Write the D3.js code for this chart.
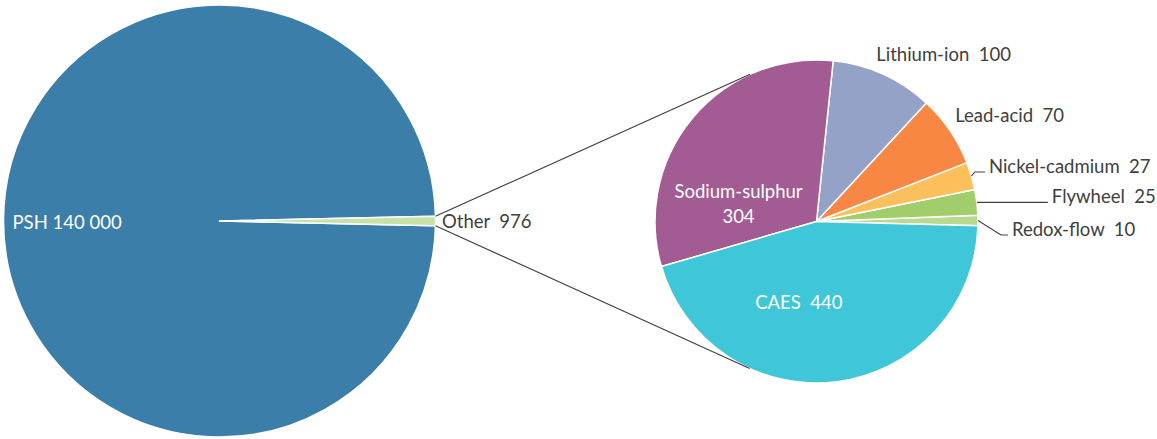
<!DOCTYPE html>
<html>
<head>
<meta charset="utf-8">
<script src="https://cdn.jsdelivr.net/npm/d3@7"></script>
<style>
  html, body { margin: 0; padding: 0; background: #ffffff; }
  svg { display: block; }
  text { font-family: Lato, "Open Sans", sans-serif; font-size: 18.5px; white-space: pre; }
</style>
</head>
<body>
<svg id="chart" width="1157" height="439"></svg>
<script>
// ---- data ----
const mainCategories = ["PSH", "Other"];
const mainValues = [140000, 976];
const mainColors = ["#3a7ea9", "#c9e0a8"];

const detailCategories = ["Redox-flow", "Flywheel", "Nickel-cadmium", "Lead-acid", "Lithium-ion", "Sodium-sulphur", "CAES"];
const detailValues = [10, 25, 27, 70, 100, 304, 440];
const detailColors = ["#b8da8f", "#a2cd6b", "#fbbf5b", "#f78743", "#95a2c8", "#a35b93", "#3fc6d9"];

// ---- layout ----
const svg = d3.select("#chart");
const mainC = { x: 219.5, y: 221, r: 216 };
const detC = { x: 816.5, y: 221.5, r: 161.5 };
const deg = Math.PI / 180;
const fmtSpace = d3.formatLocale({ decimal: ".", thousands: " ", grouping: [3], currency: ["", ""] }).format(",d");

// main pie: "Other" slice centred at 3 o'clock
const otherAngle = 2 * Math.PI * mainValues[1] / d3.sum(mainValues);
const mainStart = Math.PI / 2 + otherAngle / 2;
const mainPie = d3.pie().sort(null).value(d => d.v).startAngle(mainStart).endAngle(mainStart + 2 * Math.PI);
const mainData = mainPie(mainCategories.map((c, i) => ({ c, v: mainValues[i], col: mainColors[i] })));
const mainArc = d3.arc().innerRadius(0).outerRadius(mainC.r);

const gMain = svg.append("g").attr("transform", `translate(${mainC.x},${mainC.y})`);
gMain.selectAll("path").data(mainData).join("path")
  .attr("d", mainArc).attr("fill", d => d.data.col)
  .attr("stroke", "#ffffff").attr("stroke-width", 1.5).attr("stroke-linejoin", "round");

// detail pie: counter-clockwise from just below 3 o'clock
const detStart = Math.PI / 2 + 1.5 * deg;
const detPie = d3.pie().sort(null).value(d => d.v).startAngle(detStart).endAngle(detStart - 2 * Math.PI);
const detData = detPie(detailCategories.map((c, i) => ({ c, v: detailValues[i], col: detailColors[i] })));
const detArc = d3.arc().innerRadius(0).outerRadius(detC.r);

const gDet = svg.append("g").attr("transform", `translate(${detC.x},${detC.y})`);
gDet.selectAll("path").data(detData).join("path")
  .attr("d", detArc).attr("fill", d => d.data.col)
  .attr("stroke", "#ffffff").attr("stroke-width", 1.5).attr("stroke-linejoin", "round");

// ---- connector lines (tangents from Other slice edges to detail pie) ----
const other = mainData[1];
function polar(c, r, a) { return [c.x + r * Math.sin(a), c.y - r * Math.cos(a)]; }
const pA = polar(mainC, mainC.r, Math.min(other.startAngle, other.endAngle)); // upper edge
const pB = polar(mainC, mainC.r, Math.max(other.startAngle, other.endAngle)); // lower edge
function tangent(p, sign) {
  const dx = p[0] - detC.x, dy = p[1] - detC.y;
  const d = Math.hypot(dx, dy);
  const phi = Math.atan2(dy, dx) + sign * Math.acos(detC.r / d);
  return [detC.x + detC.r * Math.cos(phi), detC.y + detC.r * Math.sin(phi)];
}
const tA = tangent(pA, 1);
const tB = tangent(pB, -1);
svg.append("line").attr("x1", pA[0]).attr("y1", pA[1]).attr("x2", tA[0]).attr("y2", tA[1])
  .attr("stroke", "#404040").attr("stroke-width", 1.2);
svg.append("line").attr("x1", pB[0]).attr("y1", pB[1]).attr("x2", tB[0]).attr("y2", tB[1])
  .attr("stroke", "#404040").attr("stroke-width", 1.2);

// ---- main labels ----
const midA = d => (d.startAngle + d.endAngle) / 2;
const pshPt = polar(mainC, 207, midA(mainData[0]));
svg.append("text").attr("x", pshPt[0]).attr("y", pshPt[1] + 8)
  .attr("fill", "#ffffff").text(mainCategories[0] + " " + fmtSpace(mainValues[0]));
const otherPt = polar(mainC, mainC.r + 6.5, midA(other));
svg.append("text").attr("x", otherPt[0]).attr("y", otherPt[1] + 7)
  .attr("fill", "#404040").text(mainCategories[1] + "  " + mainValues[1]);

// ---- detail labels ----
const txtCol = "#404040";
const lblFor = i => detailCategories[i] + "  " + detailValues[i];
// leader lines for small slices (relative bends from slice edge point)
const leaders = {
  0: [[23, 14.5], [30, 14.5]],
  1: [[71, 0]],
  2: [[3.5, -4], [13.5, -4]]
};
const leaderText = { 0: [34, 15.5], 1: [75, 0.6], 2: [17.5, -2.5] };
[0, 1, 2].forEach(i => {
  const p0 = polar(detC, detC.r, midA(detData[i]));
  const pts = [p0].concat(leaders[i].map(o => [p0[0] + o[0], p0[1] + o[1]]));
  svg.append("path").attr("d", d3.line()(pts)).attr("fill", "none")
    .attr("stroke", "#404040").attr("stroke-width", 1.1);
  svg.append("text").attr("x", p0[0] + leaderText[i][0]).attr("y", p0[1] + leaderText[i][1])
    .attr("fill", txtCol).text(lblFor(i));
});
// lead-acid and lithium-ion: just outside the arc
const outOffsets = { 3: [-3, -3], 4: [-11, -4] };
[3, 4].forEach(i => {
  const p = polar(detC, detC.r + 10, midA(detData[i]));
  svg.append("text").attr("x", p[0] + outOffsets[i][0]).attr("y", p[1] + outOffsets[i][1])
    .attr("fill", txtCol).text(lblFor(i));
});
// sodium-sulphur: inside, two lines
{
  const c = detArc.centroid(detData[5]);
  const x = detC.x + c[0] - 16, y = detC.y + c[1] + 36;
  const t = svg.append("text").attr("text-anchor", "middle").attr("fill", "#ffffff");
  t.append("tspan").attr("x", x).attr("y", y - 8).text(detailCategories[5]);
  t.append("tspan").attr("x", x).attr("y", y + 17).text(String(detailValues[5]));
}
// CAES: inside
{
  const c = detArc.centroid(detData[6]);
  svg.append("text").attr("text-anchor", "middle").attr("fill", "#ffffff")
    .attr("x", detC.x + c[0] - 28).attr("y", detC.y + c[1] + 7).text(lblFor(6));
}
</script>
</body>
</html>
